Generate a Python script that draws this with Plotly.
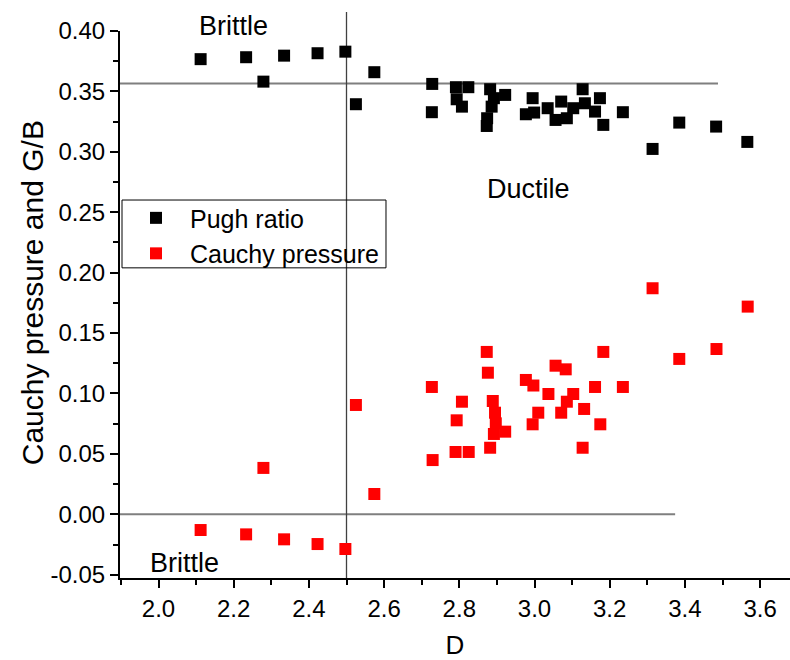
import plotly.graph_objects as go

# Pugh ratio (G/B) vs D
pugh_D = [2.112, 2.233, 2.279, 2.334, 2.423, 2.497, 2.574, 2.525,
          2.728, 2.727, 2.791, 2.824, 2.793, 2.807, 2.882, 2.922, 2.892, 2.886,
          2.874, 2.873, 2.995, 2.977, 2.999, 3.035, 3.071, 3.056, 3.086, 3.103,
          3.128, 3.134, 3.161, 3.174, 3.183, 3.235, 3.314, 3.385, 3.483, 3.566]
pugh_val = [0.3767, 0.3783, 0.3581, 0.3796, 0.3816, 0.3829, 0.3659, 0.3394,
            0.3562, 0.3328, 0.3535, 0.3535, 0.3435, 0.3374, 0.3518, 0.3471, 0.3444, 0.3374,
            0.3278, 0.3214, 0.3444, 0.3311, 0.3325, 0.3361, 0.3416, 0.3264, 0.3278, 0.3361,
            0.3518, 0.3402, 0.3333, 0.3444, 0.3223, 0.3328, 0.3024, 0.3242, 0.3209, 0.3082]

# Cauchy pressure vs D
cauchy_D = [2.112, 2.233, 2.334, 2.423, 2.497, 2.574, 2.279, 2.525,
            2.873, 2.876, 2.727, 2.807, 2.793, 2.790, 2.825, 2.729, 2.889, 2.895,
            2.897, 2.892, 2.922, 2.882, 2.977, 2.997, 3.037, 3.010, 2.995, 3.056,
            3.083, 3.103, 3.086, 3.071, 3.132, 3.128, 3.161, 3.183, 3.235, 3.175,
            3.314, 3.567, 3.484, 3.385]
cauchy_val = [-0.0130, -0.0166, -0.0207, -0.0246, -0.0287, 0.0168, 0.0384, 0.0905,
              0.1344, 0.1172, 0.1054, 0.0932, 0.0778, 0.0516, 0.0516, 0.0449, 0.0938, 0.0841,
              0.0753, 0.0665, 0.0684, 0.0551, 0.1112, 0.1066, 0.0996, 0.0841, 0.0745, 0.1230,
              0.1200, 0.0996, 0.0932, 0.0841, 0.0872, 0.0551, 0.1054, 0.1344, 0.1054, 0.0745,
              0.1871, 0.1719, 0.1368, 0.1286]

# Reference lines
pugh_limit = 0.3565
pugh_line_end = 3.488
cauchy_limit = 0.0
cauchy_line_end = 3.374
d_limit = 2.5

x_ticks = [2.0, 2.2, 2.4, 2.6, 2.8, 3.0, 3.2, 3.4, 3.6]
y_ticks = [-0.05, 0.00, 0.05, 0.10, 0.15, 0.20, 0.25, 0.30, 0.35, 0.40]

X_RANGE = [1.8976, 3.6795]
Y_RANGE = [-0.0527, 0.40]

FONT = "Liberation Sans, Arial, sans-serif"

fig = go.Figure()
fig.add_trace(go.Scatter(x=pugh_D, y=pugh_val, mode="markers", name="Pugh ratio",
                         marker=dict(symbol="square", size=12, color="#000000", line=dict(width=0))))
fig.add_trace(go.Scatter(x=cauchy_D, y=cauchy_val, mode="markers", name="Cauchy pressure",
                         marker=dict(symbol="square", size=12, color="#ff0000", line=dict(width=0))))

span = X_RANGE[1] - X_RANGE[0]
fig.add_shape(type="line", xref="paper", yref="y", x0=0, x1=(pugh_line_end - X_RANGE[0]) / span,
              y0=pugh_limit, y1=pugh_limit, line=dict(color="#7f7f7f", width=2), layer="below")
fig.add_shape(type="line", xref="paper", yref="y", x0=0, x1=(cauchy_line_end - X_RANGE[0]) / span,
              y0=cauchy_limit, y1=cauchy_limit, line=dict(color="#7f7f7f", width=2), layer="below")
fig.add_shape(type="line", xref="x", yref="paper", x0=d_limit, x1=d_limit, y0=0, y1=1.0347,
              line=dict(color="#404040", width=1.3), layer="below")
# legend frame
fig.add_shape(type="rect", xref="paper", yref="paper", x0=0.003, x1=0.397, y0=0.567, y1=0.691,
              line=dict(color="#000000", width=1), fillcolor="rgba(0,0,0,0)")

ann_font = dict(family=FONT, size=27, color="#000000")
fig.add_annotation(x=2.200, y=1.009, xref="x", yref="paper", yanchor="middle", xanchor="center",
                   text="Brittle", showarrow=False, font=ann_font)
fig.add_annotation(x=2.983, y=0.2693, xref="x", yref="y", yanchor="middle", xanchor="center",
                   text="Ductile", showarrow=False, font=ann_font)
fig.add_annotation(x=2.069, y=-0.0406, xref="x", yref="y", yanchor="middle", xanchor="center",
                   text="Brittle", showarrow=False, font=ann_font)
# y axis title
fig.add_annotation(x=-0.131, y=0.521, xref="paper", yref="paper", xanchor="center", yanchor="middle",
                   text="Cauchy pressure and G/B", textangle=-90, showarrow=False,
                   font=dict(family=FONT, size=30, color="#000000"))

fig.update_layout(
    width=790, height=660,
    margin=dict(l=120, r=0, t=31, b=82),
    paper_bgcolor="white", plot_bgcolor="white",
    font=dict(family=FONT, color="#000000"),
    showlegend=True,
    legend=dict(x=0.003, y=0.700, xanchor="left", yanchor="top",
                bgcolor="rgba(0,0,0,0)", borderwidth=0,
                font=dict(family=FONT, size=25, color="#000000"),
                itemwidth=58, tracegroupgap=0),
    xaxis=dict(range=X_RANGE, tickvals=x_ticks, ticktext=[f"{v:.1f}" for v in x_ticks],
               showgrid=False, zeroline=False, showline=True, linecolor="#000000", linewidth=2,
               ticks="outside", ticklen=8, tickwidth=1.5, tickcolor="#000000",
               minor=dict(dtick=0.1, tick0=2.0, ticks="outside", ticklen=5, tickwidth=1.5, tickcolor="#000000"),
               tickfont=dict(family=FONT, size=24, color="#000000"),
               title=dict(text="D", font=dict(family=FONT, size=26, color="#000000"), standoff=16)),
    yaxis=dict(range=Y_RANGE, tickvals=y_ticks, ticktext=[f"{v:.2f}" for v in y_ticks],
               showgrid=False, zeroline=False, showline=True, linecolor="#000000", linewidth=2,
               ticks="outside", ticklen=8, tickwidth=1.5, tickcolor="#000000",
               minor=dict(dtick=0.025, tick0=0.0, ticks="outside", ticklen=5, tickwidth=1.5, tickcolor="#000000"),
               tickfont=dict(family=FONT, size=24, color="#000000")),
)

fig.write_html("out.html")
